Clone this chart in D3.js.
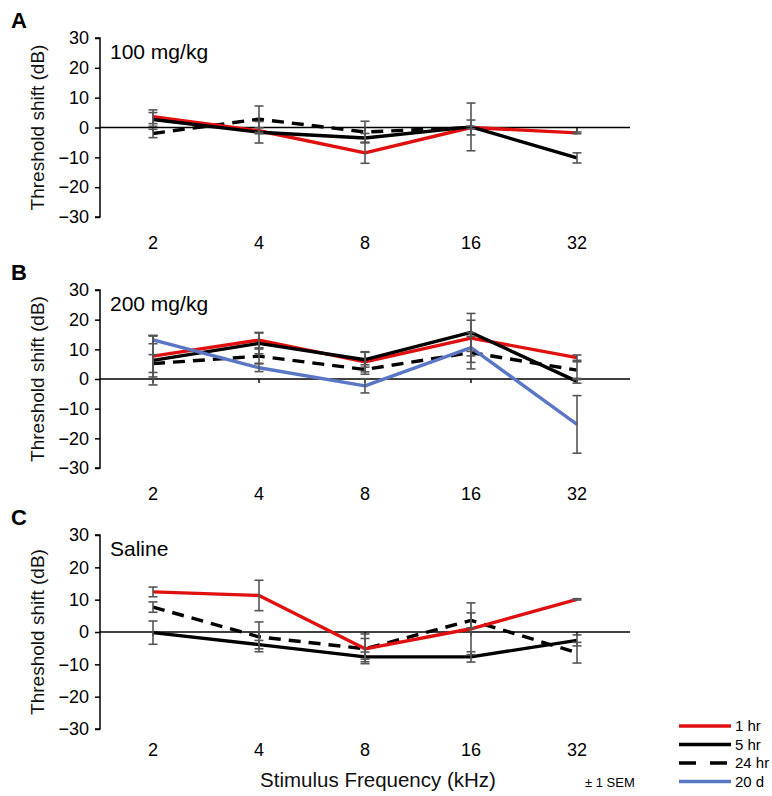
<!DOCTYPE html>
<html>
<head>
<meta charset="utf-8">
<script src="https://cdn.jsdelivr.net/npm/d3@7"></script>
<style>
  html, body { margin: 0; padding: 0; background: #fff; }
  svg { display: block; font-family: "Liberation Sans", Arial, Helvetica, sans-serif; }
</style>
</head>
<body>
<svg id="chart" width="772" height="796"></svg>
<script>
// ---- Data ----
const frequencies = ["2", "4", "8", "16", "32"];
const yTicks = [30, 20, 10, 0, -10, -20, -30];
const seriesNames = ["1 hr", "5 hr", "24 hr", "20 d"];

// Panel A: 100 mg/kg
const a_1hr   = [3.6, -1.1, -8.5, 0.0, -1.8];
const a_5hr   = [2.7, -1.6, -3.5, 0.2, -10.2];
const a_24hr  = [-2.0, 2.8, -1.5, 0.0, null];
const a_1hr_sem  = [2.3, 1.0, 3.5, 0.4, 0.3];
const a_5hr_sem  = [2.3, 3.6, 1.5, 8.0, 1.7];
const a_24hr_sem = [1.4, 4.4, 3.6, 2.5, null];

// Panel B: 200 mg/kg
const b_1hr   = [7.7, 13.1, 5.8, 13.8, 7.2];
const b_5hr   = [6.3, 12.0, 6.5, 15.7, -0.8];
const b_24hr  = [5.2, 7.7, 3.2, 8.9, 3.0];
const b_20d   = [13.2, 3.8, -2.3, 10.6, -15.3];
const b_1hr_sem  = [7.0, 2.6, 3.4, 6.0, 0.9];
const b_5hr_sem  = [8.3, 3.5, 2.5, 6.4, 0.6];
const b_24hr_sem = [3.0, 2.4, 1.6, 5.5, 2.8];
const b_20d_sem  = [1.3, 1.3, 2.4, 5.0, 9.7];

// Panel C: Saline
const c_1hr   = [12.4, 11.3, -5.2, 1.0, 10.1];
const c_5hr   = [-0.2, -3.9, -7.7, -7.7, -2.6];
const c_24hr  = [7.7, -1.5, -5.2, 3.6, -6.4];
const c_1hr_sem  = [1.5, 4.7, 4.6, 8.0, 0.2];
const c_5hr_sem  = [3.6, 1.3, 1.5, 1.6, 1.7];
const c_24hr_sem = [1.6, 4.6, 3.2, 2.3, 3.2];

const panels = [
  { letter: "A", label: "100 mg/kg", top: 38, bottom: 217, labelY: 249,
    series: [
      { name: "24 hr", values: a_24hr, sem: a_24hr_sem },
      { name: "1 hr",  values: a_1hr,  sem: a_1hr_sem },
      { name: "5 hr",  values: a_5hr,  sem: a_5hr_sem }
    ] },
  { letter: "B", label: "200 mg/kg", top: 290, bottom: 468, labelY: 500,
    series: [
      { name: "24 hr", values: b_24hr, sem: b_24hr_sem },
      { name: "1 hr",  values: b_1hr,  sem: b_1hr_sem },
      { name: "5 hr",  values: b_5hr,  sem: b_5hr_sem },
      { name: "20 d",  values: b_20d,  sem: b_20d_sem }
    ] },
  { letter: "C", label: "Saline", top: 535, bottom: 729, labelY: 756,
    series: [
      { name: "24 hr", values: c_24hr, sem: c_24hr_sem },
      { name: "1 hr",  values: c_1hr,  sem: c_1hr_sem },
      { name: "5 hr",  values: c_5hr,  sem: c_5hr_sem }
    ] }
];

const styles = {
  "1 hr":  { color: "#e01010", dash: null },
  "5 hr":  { color: "#000000", dash: null },
  "24 hr": { color: "#000000", dash: "12,8" },
  "20 d":  { color: "#5a77c6", dash: null }
};

// ---- Drawing ----
const svg = d3.select("#chart");
const x = d3.scaleBand().domain(frequencies).range([100, 630]);
const cx = f => x(f) + x.bandwidth() / 2;

panels.forEach(p => {
  const y = d3.scaleLinear().domain([-30, 30]).range([p.bottom, p.top]);
  const g = svg.append("g");

  // y axis
  const yAxis = d3.axisLeft(y).tickValues(yTicks).tickSize(5).tickPadding(6).tickFormat(d3.format("d"));
  const ya = g.append("g").attr("transform", "translate(100,0)").call(yAxis);
  ya.select(".domain").attr("stroke", "#000").attr("stroke-width", 1.5)
    .attr("d", `M-5,${y(30)}H0V${y(-30)}H-5`);
  ya.selectAll(".tick line").attr("stroke", "#000").attr("stroke-width", 1.5);
  ya.selectAll(".tick text").attr("font-size", 18).attr("fill", "#000")
    .attr("font-family", "Liberation Sans, Arial, sans-serif");

  // zero line (x axis at 0)
  const xAxis = d3.axisBottom(x).tickSize(4).tickFormat("");
  const xa = g.append("g").attr("transform", `translate(0,${y(0)})`).call(xAxis);
  xa.select(".domain").attr("stroke", "#000").attr("stroke-width", 1.5).attr("d", `M100,0H630`);
  xa.selectAll(".tick line").attr("stroke", "#000").attr("stroke-width", 1.4);

  // category labels below
  g.selectAll(".xl").data(frequencies).enter().append("text")
    .attr("x", d => cx(d)).attr("y", p.labelY)
    .attr("text-anchor", "middle").attr("font-size", 18).text(d => d);

  // y title
  const midY = (p.top + p.bottom) / 2;
  g.append("text")
    .attr("transform", `translate(44,${midY}) rotate(-90)`)
    .attr("text-anchor", "middle").attr("font-size", 19).attr("fill", "#111")
    .text("Threshold shift (dB)");

  // panel letter
  g.append("text").attr("x", 11).attr("y", p.top - 10)
    .attr("font-size", 22).attr("font-weight", "bold").text(p.letter);

  // panel label
  g.append("text").attr("x", 110).attr("y", p.top + 21)
    .attr("font-size", 21).text(p.label);

  // lines
  const line = d3.line()
    .defined(d => d.v !== null)
    .x(d => cx(d.f)).y(d => y(d.v));
  p.series.forEach(s => {
    const pts = frequencies.map((f, i) => ({ f, v: s.values[i] }));
    g.append("path").datum(pts)
      .attr("d", line).attr("fill", "none")
      .attr("stroke", styles[s.name].color)
      .attr("stroke-width", 3.4)
      .attr("stroke-dasharray", styles[s.name].dash)
      .attr("stroke-linejoin", "round");
  });

  // error bars
  p.series.forEach(s => {
    frequencies.forEach((f, i) => {
      const v = s.values[i], e = s.sem[i];
      if (v === null || e === null) return;
      const xx = cx(f), y1 = y(v + e), y2 = y(v - e);
      const eb = g.append("g").attr("stroke", "#555").attr("stroke-width", 1.6);
      eb.append("line").attr("x1", xx).attr("x2", xx).attr("y1", y1).attr("y2", y2);
      eb.append("line").attr("x1", xx - 4.5).attr("x2", xx + 4.5).attr("y1", y1).attr("y2", y1);
      eb.append("line").attr("x1", xx - 4.5).attr("x2", xx + 4.5).attr("y1", y2).attr("y2", y2);
    });
  });
});

// x axis title
svg.append("text").attr("x", 378).attr("y", 787)
  .attr("text-anchor", "middle").attr("font-size", 20.5).attr("fill", "#111")
  .text("Stimulus Frequency (kHz)");

// legend
const legY0 = 726, legStep = 18.5;
seriesNames.forEach((n, i) => {
  const ly = legY0 + i * legStep;
  svg.append("line").attr("x1", 679).attr("x2", n === "24 hr" ? 727 : 731).attr("y1", ly).attr("y2", ly)
    .attr("stroke", styles[n].color).attr("stroke-width", 3.4)
    .attr("stroke-dasharray", n === "24 hr" ? "17,14" : null);
  svg.append("text").attr("x", 735).attr("y", ly + 5).attr("font-size", 15).text(n);
});
svg.append("text").attr("x", 585).attr("y", legY0 + 3 * legStep + 5)
  .attr("font-size", 13).text("± 1 SEM");
</script>
</body>
</html>
